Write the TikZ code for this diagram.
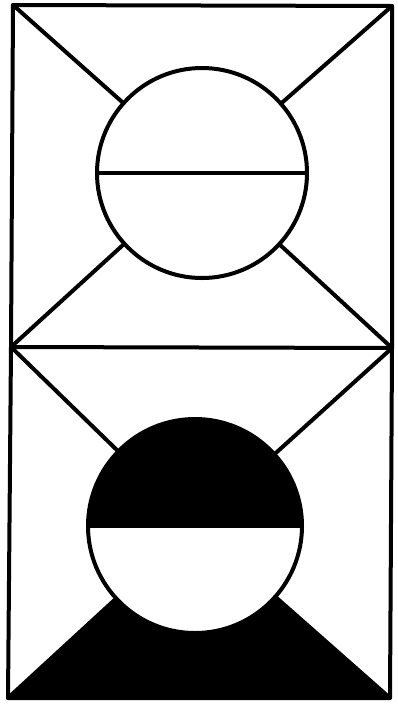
\documentclass[tikz,border=0pt]{standalone}
\usetikzlibrary{calc}
\begin{document}
\begin{tikzpicture}[x=1pt,y=-1pt,
  ink/.style={line width=4pt,line join=round,line cap=round,draw=black}]
\useasboundingbox (0,0) rectangle (398,705);
% corners
\coordinate (tl) at (13,5);
\coordinate (tr) at (392,6);
\coordinate (ml) at (11,347);
\coordinate (mr) at (392,348);
\coordinate (bl) at (8,698);
\coordinate (br) at (390,698);
% circle centres
\coordinate (c1) at (202,173);
\coordinate (c2) at (195,526);
\def\ra{105}
\def\rb{107}
% junctions on circles
\coordinate (a1) at ($(c1)!\ra pt!(tl)$);
\coordinate (a2) at ($(c1)!\ra pt!(tr)$);
\coordinate (a3) at ($(c1)!\ra pt!(ml)$);
\coordinate (a4) at ($(c1)!\ra pt!(mr)$);
\coordinate (b1) at ($(c2)!\rb pt!(ml)$);
\coordinate (b2) at ($(c2)!\rb pt!(mr)$);
\coordinate (b3) at ($(c2)!\rb pt!(bl)$);
\coordinate (b4) at ($(c2)!\rb pt!(br)$);
% bottom black region
\fill[black] (bl) -- (b3) -- (c2) -- (b4) -- (br) -- cycle;
\fill[white] (c2) circle[radius=\rb];
\fill[black] ($(c2)+(-\rb,0)$) arc[start angle=180,end angle=360,radius=\rb] -- cycle;
% frame
\draw[ink] (tl) -- (tr) -- (mr) -- (br) -- (bl) -- (ml) -- cycle;
\draw[ink] (ml) -- (mr);
% top circle
\draw[ink] (c1) circle[radius=\ra];
\draw[ink] ($(c1)+(-\ra,0)$) -- ($(c1)+(\ra,0)$);
\draw[ink] (tl) -- (a1);
\draw[ink] (tr) -- (a2);
\draw[ink] (ml) -- (a3);
\draw[ink] (mr) -- (a4);
% bottom circle
\draw[ink] (c2) circle[radius=\rb];
\draw[ink] ($(c2)+(-\rb,0)$) -- ($(c2)+(\rb,0)$);
\draw[ink] (ml) -- (b1);
\draw[ink] (mr) -- (b2);
\draw[ink] (bl) -- (b3);
\draw[ink] (br) -- (b4);
\end{tikzpicture}
\end{document}
